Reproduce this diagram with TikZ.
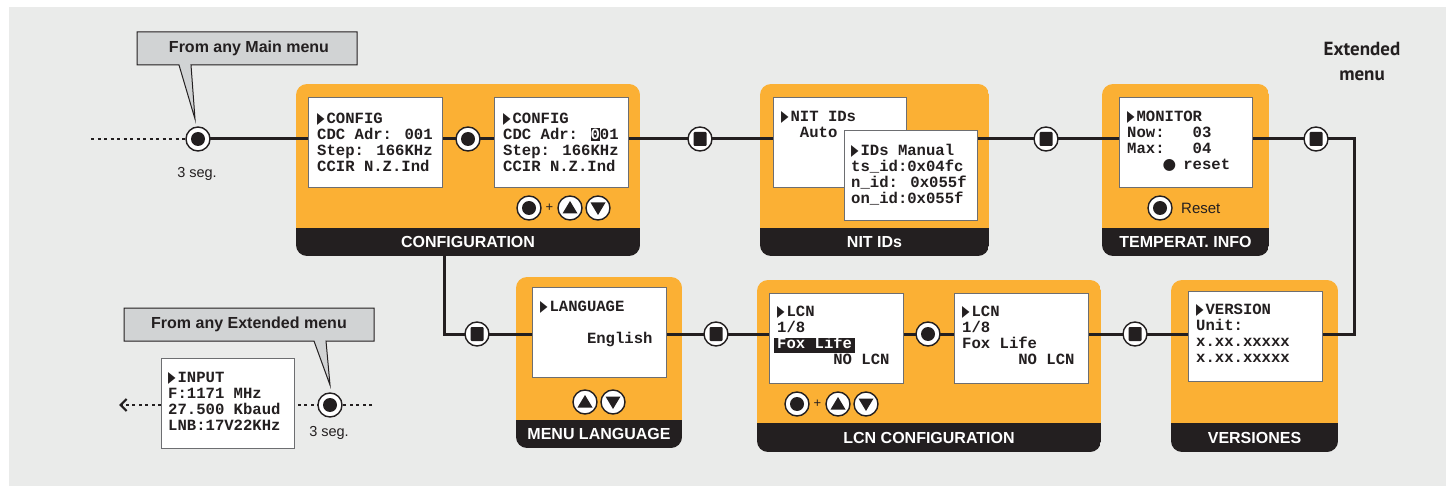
\documentclass[tikz,border=0pt]{standalone}
\usepackage{fontspec}
\setmainfont{Liberation Sans}
\newfontfamily\lcdf{Liberation Mono}
\newfontfamily\symf{DejaVu Sans}
\newfontfamily\extf{PT Sans}
\usetikzlibrary{arrows.meta}
\definecolor{pOrange}{HTML}{FBB034}
\definecolor{ink}{HTML}{231F20}
\definecolor{bgGray}{HTML}{EAEBEA}
\definecolor{callGray}{HTML}{D1D3D4}
\definecolor{scrB}{HTML}{6D6E71}
\newcommand\lcdfont{\lcdf\bfseries\fontsize{15.6}{16.2}\selectfont}
\newcommand\tri{\makebox[0.6em][l]{\resizebox{7.5pt}{10pt}{\symf ▶}}}
\newcommand\dotc{\makebox[0.6em][c]{\symf ●}}
\newcommand\invz{\makebox[0pt][l]{\rule[-1.5pt]{0.6em}{12.5pt}}\textcolor{white}{0}}
\newcommand\invfox{\makebox[0pt][l]{\hspace*{-3pt}\rule[-4pt]{\dimexpr4.8em+6pt\relax}{15pt}}\textcolor{white}{Fox Life}}
\newcommand\fst{\rule{0pt}{12pt}}
\newcommand\mkpanel[5]{%
  \begin{scope}
  \clip[rounded corners=11pt] (#1,#2) rectangle (#3,#4);
  \fill[pOrange] (#1,#2) rectangle (#3,#5);
  \fill[ink] (#1,#5) rectangle (#3,#4);
  \end{scope}}
\pgfdeclarelayer{bg}
\pgfdeclarelayer{lines}
\pgfsetlayers{bg,lines,main}
\tikzset{
  screen/.style={draw=scrB, line width=1.2pt, fill=white, anchor=north west, inner sep=0pt},
  lcd/.style={font=\lcdfont, align=left, anchor=north west, inner sep=0pt, text=ink},
  lbl/.style={font=\fontsize{16}{18}\selectfont\bfseries, text=white, inner sep=0pt},
  conn/.style={draw=ink, line width=3pt},
  dotline/.style={draw=ink, line width=2.6pt, dash pattern=on 3pt off 3.5pt},
  btn/.style={circle, draw=ink, fill=white, line width=1.4pt, minimum size=24pt, inner sep=0pt},
  bdot/.style={btn, path picture={\fill[ink] (path picture bounding box.center) circle (7pt);}},
  bsq/.style={btn, path picture={\fill[ink, rounded corners=1pt] ([shift={(-6.5pt,-7pt)}]path picture bounding box.center) rectangle ([shift={(6.5pt,7pt)}]path picture bounding box.center);}},
  bup/.style={btn, path picture={\fill[ink] ([shift={(0pt,7pt)}]path picture bounding box.center) -- ([shift={(-7.5pt,-5.5pt)}]path picture bounding box.center) -- ([shift={(7.5pt,-5.5pt)}]path picture bounding box.center) -- cycle;}},
  bdown/.style={btn, path picture={\fill[ink] ([shift={(0pt,-7pt)}]path picture bounding box.center) -- ([shift={(-7.5pt,5.5pt)}]path picture bounding box.center) -- ([shift={(7.5pt,5.5pt)}]path picture bounding box.center) -- cycle;}},
  small/.style={text=ink, font=\fontsize{14.5}{17}\selectfont, inner sep=0pt},
  callout/.style={fill=callGray, draw=ink, line width=1pt, line join=miter},
  calltext/.style={text=ink, font=\fontsize{16}{18}\selectfont\bfseries, inner sep=0pt},
}
\begin{document}
\begin{tikzpicture}[x=1pt, y=-1pt]
\useasboundingbox (0,0) rectangle (1456,486);
\begin{pgfonlayer}{bg}
\fill[white] (0,0) rectangle (1456,486);
\fill[bgGray] (9,7) rectangle (1446,486);
\mkpanel{296}{84}{640}{256}{228}
\mkpanel{760}{84}{989}{256}{228}
\mkpanel{1102}{84}{1269}{256}{228}
\mkpanel{516}{277}{682}{448}{420}
\mkpanel{757}{280}{1101}{452}{423}
\mkpanel{1171}{280}{1338}{452}{423}
% callouts
\path[callout] (137,32) -- (357,32) -- (357,65) -- (191,65) -- (195,119) -- (179,65) -- (137,65) -- cycle;
\path[callout] (124,308) -- (374,308) -- (374,341) -- (326,341) -- (330,385) -- (314,341) -- (124,341) -- cycle;
\end{pgfonlayer}

% callout texts
\node[calltext] (cm1) at (249,48.5) {From any Main menu};
\node[calltext] (cm2) at (249,324.5) {From any Extended menu};
\node[anchor=base, text=ink, font=\extf\bfseries\fontsize{19}{24}\selectfont, inner sep=0pt] (ext1) at (1362,55.5) {Extended};
\node[anchor=base, text=ink, font=\extf\bfseries\fontsize{19}{24}\selectfont, inner sep=0pt] (ext2) at (1362,81) {menu};

% screens
\node[screen, minimum width=134pt, minimum height=90pt] (sc1) at (308,97) {};
\node[screen, minimum width=134pt, minimum height=90pt] (sc2) at (494,97) {};
\node[screen, minimum width=133pt, minimum height=90pt] (nitA) at (773,97) {};
\node[screen, minimum width=133pt, minimum height=90pt] (nitB) at (844,130) {};
\node[screen, minimum width=133pt, minimum height=90pt] (mon) at (1119,97) {};
\node[screen, minimum width=134pt, minimum height=90pt] (lang) at (532,287) {};
\node[screen, minimum width=134pt, minimum height=90pt] (lcn1) at (769,293) {};
\node[screen, minimum width=134pt, minimum height=90pt] (lcn2) at (954,293) {};
\node[screen, minimum width=134pt, minimum height=90pt] (ver) at (1188,291) {};
\node[screen, minimum width=133pt, minimum height=90pt] (inp) at (161,358) {};

% screen texts
\node[lcd] (t1) at (317,111) {\fst\tri CONFIG\\CDC Adr: 001\\Step: 166KHz\\CCIR N.Z.Ind};
\node[lcd] (t2) at (503,111) {\fst\tri CONFIG\\CDC Adr: \invz 01\\Step: 166KHz\\CCIR N.Z.Ind};
\node[lcd] (t3) at (781,109) {\fst\tri NIT IDs\\\hspace*{1.2em}Auto};
\node[lcd] (t4) at (851,143) {\fst\tri IDs Manual\\ts\_id:0x04fc\\n\_id: 0x055f\\on\_id:0x055f};
\node[lcd] (t5) at (1127,109) {\fst\tri MONITOR\\Now:\hspace*{1.8em}03\\Max:\hspace*{1.8em}04\\\hspace*{2.4em}\dotc\hspace*{0.6em}reset};
\node[lcd] (t6) at (540,299) {\fst\tri LANGUAGE\\\mbox{}\\\hspace*{3em}English};
\node[lcd] (t7) at (777,304) {\fst\tri LCN\\1/8\\\invfox\\\hspace*{3.6em}NO LCN};
\node[lcd] (t8) at (962,304) {\fst\tri LCN\\1/8\\Fox Life\\\hspace*{3.6em}NO LCN};
\node[lcd] (t9) at (1196,302) {\fst\tri VERSION\\Unit:\\x.xx.xxxxx\\x.xx.xxxxx};
\node[lcd] (t10) at (168,370) {\fst\tri INPUT\\F:1171 MHz\\27.500 Kbaud\\LNB:17V22KHz};

% panel labels
\node[lbl] (l1) at (468,242) {CONFIGURATION};
\node[lbl] (l2) at (874.5,242) {NIT IDs};
\node[lbl] (l3) at (1185.5,242) {TEMPERAT. INFO};
\node[lbl] (l4) at (599,434) {MENU LANGUAGE};
\node[lbl] (l5) at (929,437.5) {LCN CONFIGURATION};
\node[lbl] (l6) at (1254.5,437.5) {VERSIONES};

% buttons on the lines
\node[bdot] (b0) at (198,139) {};
\node[bdot] (b1) at (468,139) {};
\node[bsq] (bq1) at (700,139) {};
\node[bsq] (bq2) at (1046,139) {};
\node[bsq] (bq3) at (1316,139) {};
\node[bsq] (bq4) at (1135,334) {};
\node[bdot] (bc) at (928,334) {};
\node[bsq] (bq5) at (716,334) {};
\node[bsq] (bq6) at (477,334) {};
\node[bdot] (binp) at (330,405) {};

% buttons in panels
\node[bdot] (k1) at (529,208) {};
\node[small, font=\fontsize{13}{15}\selectfont] (p1) at (549.5,208) {+};
\node[bup] (k2) at (570,208) {};
\node[bdown] (k3) at (598,208) {};
\node[bdot] (k4) at (1160,208) {};
\node[small, font=\fontsize{15}{18}\selectfont, anchor=west] (rs) at (1181,208) {Reset};
\node[bup] (k5) at (585,402) {};
\node[bdown] (k6) at (613,402) {};
\node[bdot] (k7) at (797,404) {};
\node[small, font=\fontsize{13}{15}\selectfont] (p2) at (817.5,404) {+};
\node[bup] (k8) at (838,404) {};
\node[bdown] (k9) at (866,404) {};

% texts
\node[small] (sg1) at (197,174) {3 seg.};
\node[small] (sg2) at (329,433) {3 seg.};

% coordinates
\coordinate (d0) at (91,139);
\coordinate (cR1) at (1354,139);
\coordinate (cR2) at (1354,334);
\coordinate (cL1) at (444,250);
\coordinate (cL2) at (444,334);
\coordinate (dR) at (372,405);
\coordinate (arr) at (119,405);

\begin{pgfonlayer}{lines}
\draw[dotline] (d0) -- (b0.center);
\draw[conn] (b0.center) -- (b0.center -| sc1.west);
\draw[conn] (b1.center -| sc1.east) -- (b1.center) -- (b1.center -| sc2.west);
\draw[conn] (bq1.center -| sc2.east) -- (bq1.center) -- (bq1.center -| nitA.west);
\draw[conn] (bq2.center -| nitB.east) -- (bq2.center) -- (bq2.center -| mon.west);
\draw[conn, line join=miter] (bq3.center -| mon.east) -- (bq3.center) -- (cR1) -- (cR2) -- (cR2 -| ver.east);
\draw[conn] (bq4.center -| ver.west) -- (bq4.center) -- (bq4.center -| lcn2.east);
\draw[conn] (bc.center -| lcn2.west) -- (bc.center) -- (bc.center -| lcn1.east);
\draw[conn] (bq5.center -| lcn1.west) -- (bq5.center) -- (bq5.center -| lang.east);
\draw[conn, line join=miter] (bq6.center -| lang.west) -- (bq6.center) -- (cL2) -- (cL1);
\draw[dotline] (dR) -- (binp.center) -- (binp.center -| inp.east);
\draw[dotline, -{Straight Barb[length=6pt,width=12pt,line width=2.2pt]}] (binp.center -| inp.west) -- (arr);
\end{pgfonlayer}
\end{tikzpicture}
\end{document}
